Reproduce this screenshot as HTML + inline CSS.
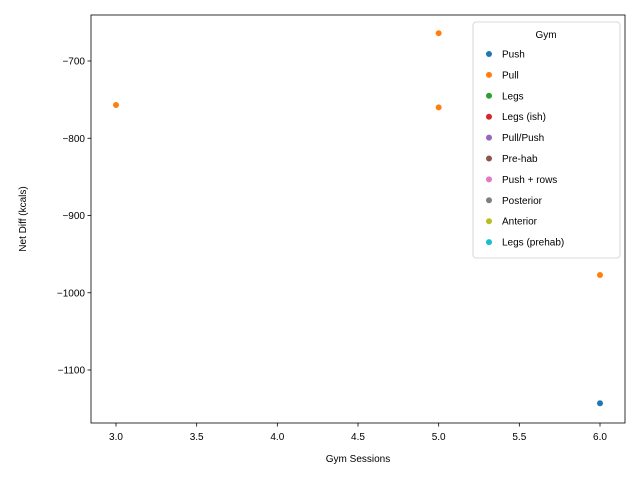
<!DOCTYPE html>
<html><head><meta charset="utf-8"><style>
body{margin:0;background:#fff}
svg{font-family:"Liberation Sans","DejaVu Sans",sans-serif}
</style></head><body>
<svg id="chart" width="640" height="480" viewBox="0 0 640 480"></svg>
<script>
const categoriesX = [3, 5, 5, 6, 6];
const valuesY = [-757, -664, -760, -977, -1143];
const pointGroups = ["Pull", "Pull", "Pull", "Pull", "Push"];
const xTicks = [3.0, 3.5, 4.0, 4.5, 5.0, 5.5, 6.0];
const yTicks = [-700, -800, -900, -1000, -1100];
const legendLabels = ["Push","Pull","Legs","Legs (ish)","Pull/Push","Pre-hab","Push + rows","Posterior","Anterior","Legs (prehab)"];
const legendColors = ["#1f77b4","#ff7f0e","#2ca02c","#d62728","#9467bd","#8c564b","#e377c2","#7f7f7f","#bcbd22","#17becf"];

const NS = "http://www.w3.org/2000/svg";
const svg = document.getElementById("chart");
const L = 91, R = 625, T = 15, B = 423;
function sx(v){ return 116 + (v - 3) * (600 - 116) / 3; }
function sy(v){ return 61 + (-700 - v) * (370 - 61) / 400; }
function mk(tag, attrs, parent){ const e = document.createElementNS(NS, tag); for (const k in attrs) e.setAttribute(k, attrs[k]); (parent||svg).appendChild(e); return e; }

const frame = mk("rect", {x:L, y:T, width:R-L, height:B-T, fill:"none", stroke:"#000", "stroke-width":0.8});



xTicks.forEach(t => {
  const x = sx(t);
  const tl = mk("line", {x1:x, x2:x, y1:B, y2:B+3.5, stroke:"#000", "stroke-width":0.8});
  
  
  const tx = mk("text", {x:x, y:B+17, "font-size":10, "text-anchor":"middle"});
  tx.textContent = t.toFixed(1);
  
  
});
yTicks.forEach(t => {
  const y = sy(t);
  const tl = mk("line", {x1:L-3.5, x2:L, y1:y, y2:y, stroke:"#000", "stroke-width":0.8});
  
  
  const tx = mk("text", {x:L-6, y:y+3.5, "font-size":10, "text-anchor":"end"});
  tx.textContent = "\u2212" + Math.abs(t);
  
  
});
const xt = mk("text", {x:(L+R)/2, y:462, "font-size":10, "text-anchor":"middle"});
xt.textContent = "Gym Sessions";


const yt = mk("text", {x:0, y:0, "font-size":10, "text-anchor":"middle", transform:"translate(26,"+((T+B)/2)+") rotate(-90)"});
yt.textContent = "Net Diff (kcals)";



categoriesX.forEach((xv, i) => {
  const c = legendColors[legendLabels.indexOf(pointGroups[i])];
  const p = mk("circle", {cx:sx(xv), cy:sy(valuesY[i]), r:3.3, fill:c, stroke:"#fff", "stroke-width":0.6});
  
  
});

const lg = mk("g", {});


mk("rect", {x:473, y:22, width:147, height:236, rx:3, fill:"#fff", "fill-opacity":0.8, stroke:"#ccc", "stroke-width":0.8}, lg);
const lt = mk("text", {x:546, y:38, "font-size":10, "text-anchor":"middle"}, lg);
lt.textContent = "Gym";


legendLabels.forEach((lab, i) => {
  const y = 54 + i * 20.9;
  const g = mk("g", {}, lg);
  
  
  mk("circle", {cx:489, cy:y, r:3.3, fill:legendColors[i], stroke:"#fff", "stroke-width":0.6}, g);
  const t = mk("text", {x:502, y:y+3.5, "font-size":10}, g);
  t.textContent = lab;
});
</script>
</body></html>
